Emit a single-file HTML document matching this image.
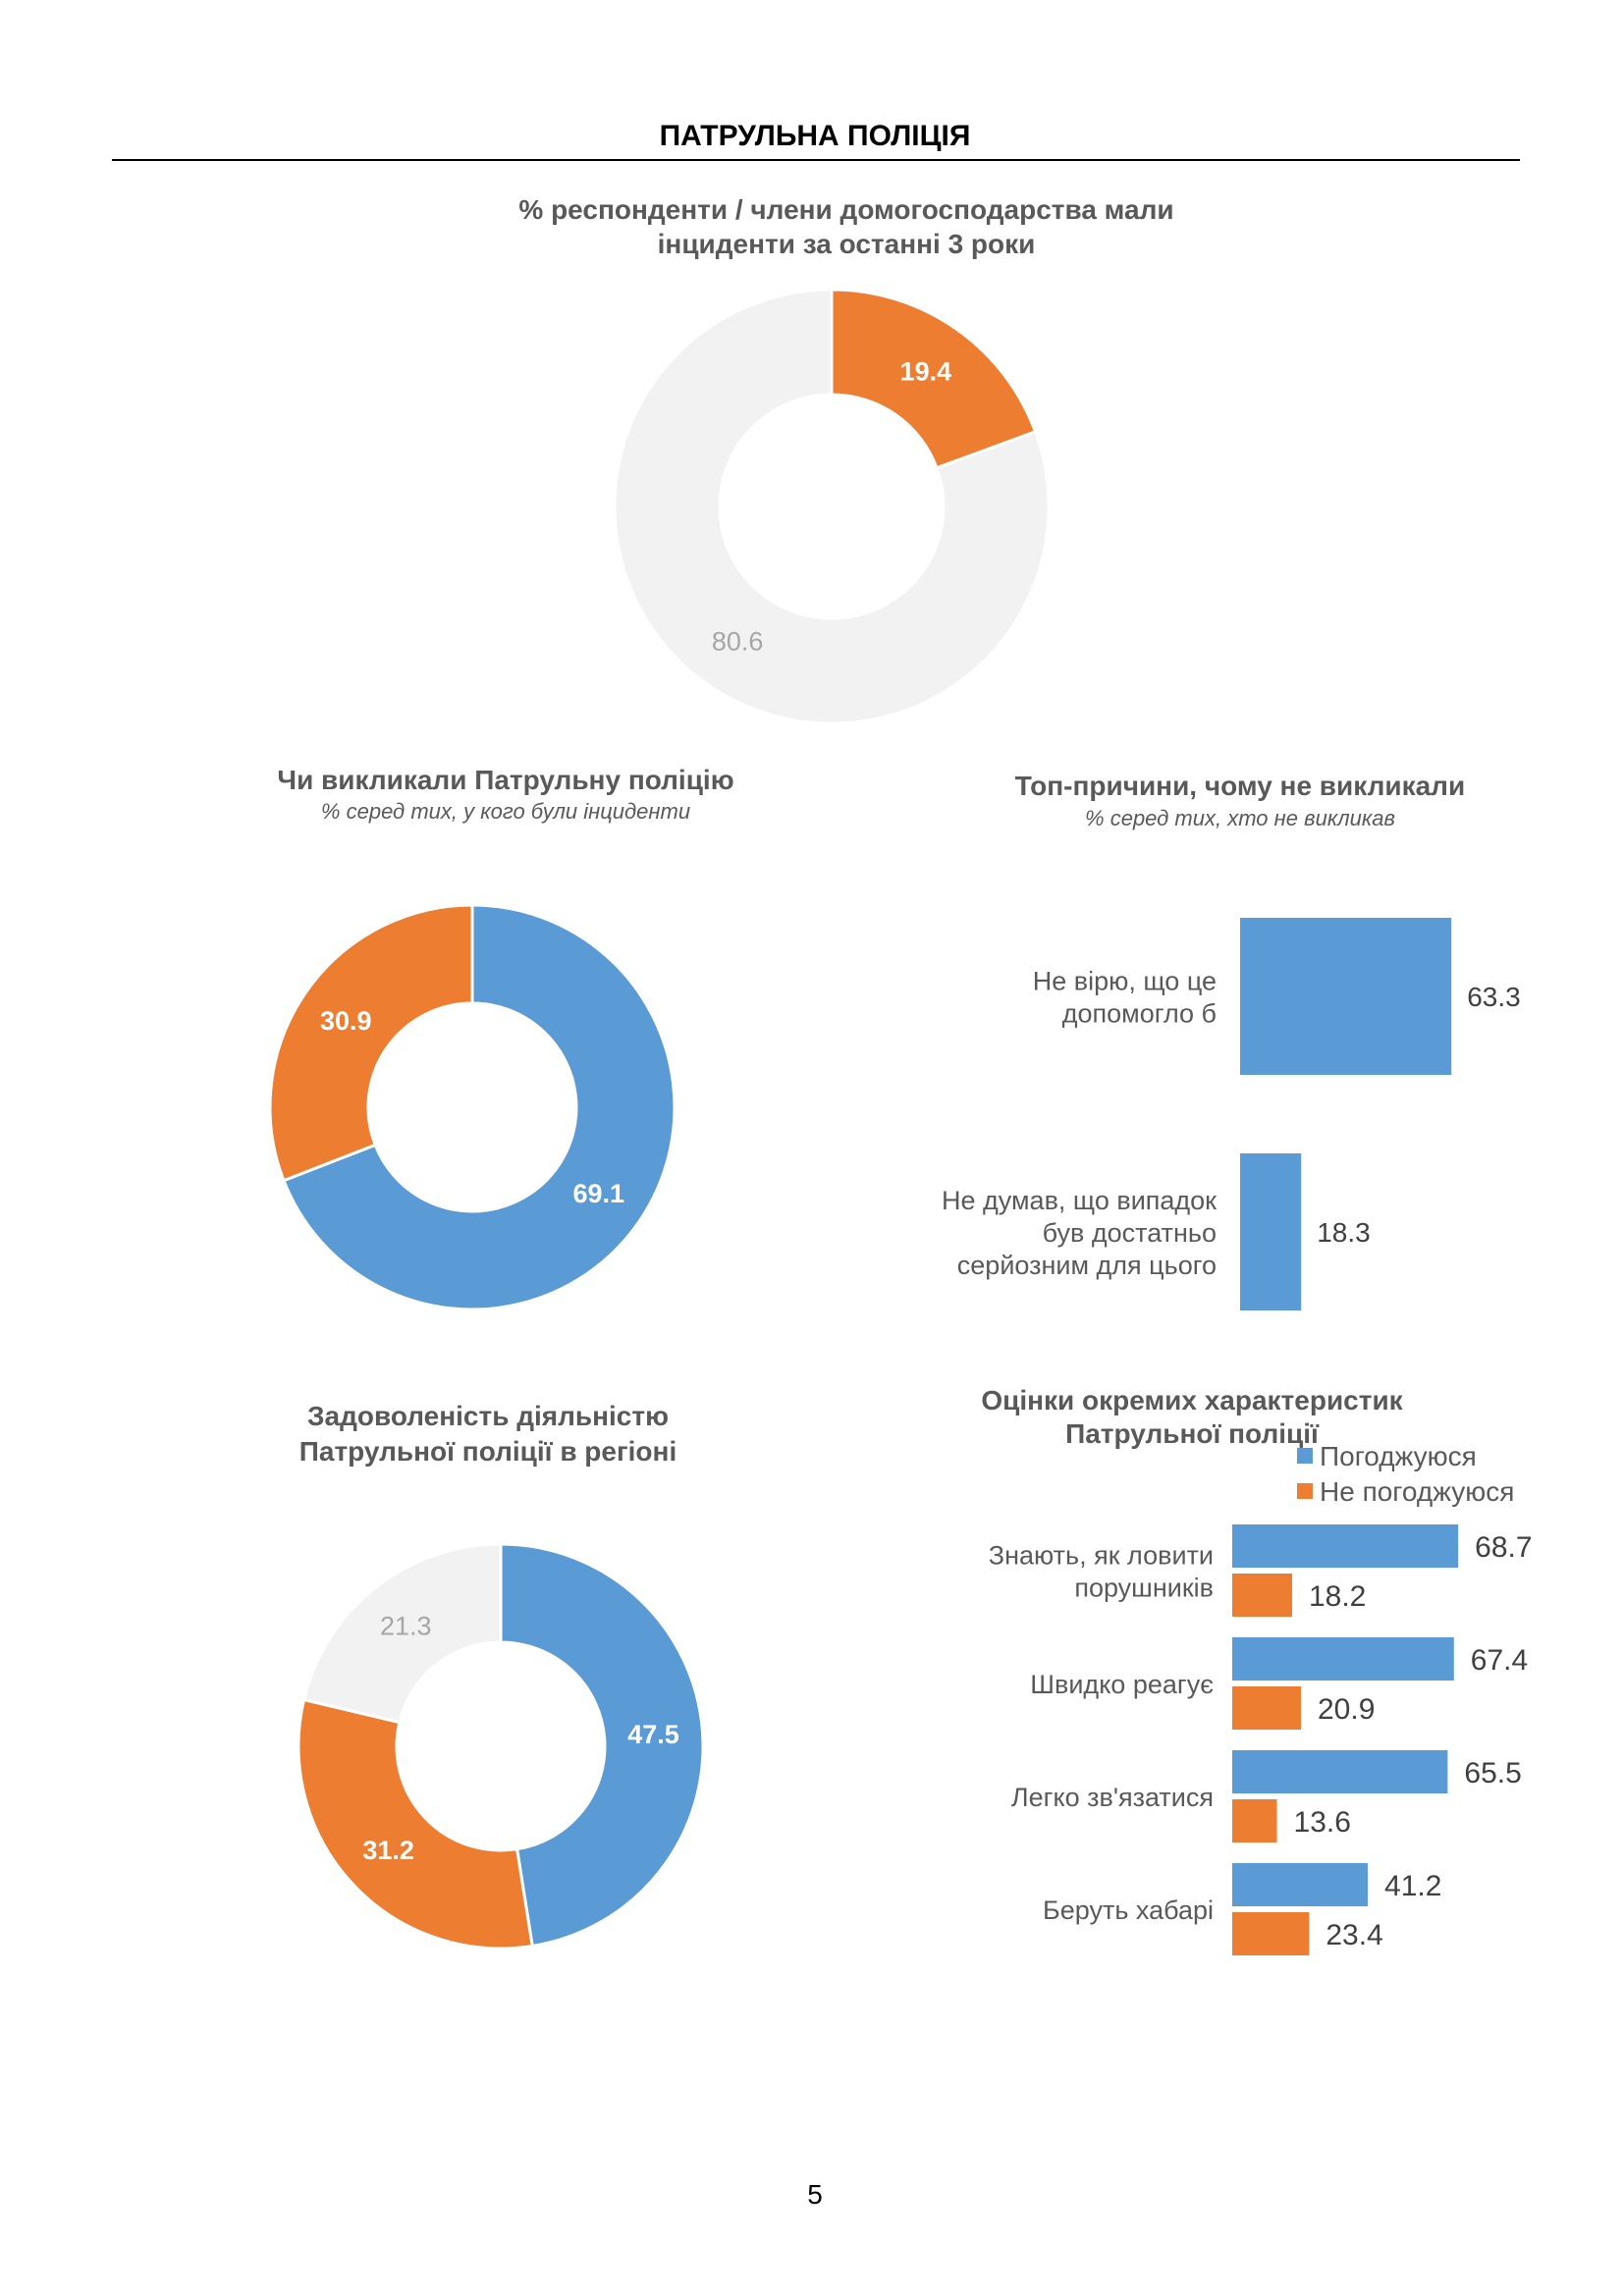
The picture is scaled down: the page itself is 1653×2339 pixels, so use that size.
<!DOCTYPE html>
<html><head><meta charset="utf-8">
<style>
html,body{margin:0;padding:0;background:#fff;}
svg{display:block;font-family:"Liberation Sans",Arial,sans-serif;}
</style></head>
<body>
<svg id="s" width="1653" height="2339" viewBox="0 0 1653 2339" xmlns="http://www.w3.org/2000/svg">
<text x="830" y="148" text-anchor="middle" font-size="30" font-weight="bold" fill="#000">ПАТРУЛЬНА ПОЛІЦІЯ</text>
<line x1="114" y1="163" x2="1548" y2="163" stroke="#000" stroke-width="2"/>

<g font-weight="bold" font-size="28" fill="#595959" text-anchor="middle">
<text x="862" y="223">% респонденти / члени домогосподарства мали</text>
<text x="862" y="258">інциденти за останні 3 роки</text>
<text x="515" y="804">Чи викликали Патрульну поліцію</text>
<text x="1263" y="810">Топ-причини, чому не викликали</text>
<text x="497" y="1452">Задоволеність діяльністю</text>
<text x="497" y="1488">Патрульної поліції в регіоні</text>
<text x="1214" y="1436">Оцінки окремих характеристик</text>
<text x="1214" y="1470">Патрульної поліції</text>
</g>
<g font-style="italic" font-size="22" fill="#595959" text-anchor="middle">
<text x="515" y="834">% серед тих, у кого були інциденти</text>
<text x="1263" y="841">% серед тих, хто не викликав</text>
</g>

<g id="d1"></g><g id="d2"></g><g id="d3"></g><g id="b1"></g><g id="b2"></g>

<g font-size="28" fill="#595959">
<rect x="1321" y="1475" width="16" height="16" fill="#5B9BD5"/>
<text x="1344" y="1493">Погоджуюся</text>
<rect x="1321" y="1511" width="16" height="16" fill="#ED7D31"/>
<text x="1344" y="1529">Не погоджуюся</text>
</g>

<text x="830" y="2245" text-anchor="middle" font-size="28" fill="#000">5</text>
</svg>
<script>
const NS="http://www.w3.org/2000/svg";
// Donut 1
const d1Values=[19.4,80.6];
const d1Colors=["#ED7D31","#F2F2F2"];
const d1LabelColors=["#fff","#A6A6A6"];
// Donut 2
const d2Values=[69.1,30.9];
const d2Colors=["#5B9BD5","#ED7D31"];
const d2LabelColors=["#fff","#fff"];
// Donut 3
const d3Values=[47.5,31.2,21.3];
const d3Colors=["#5B9BD5","#ED7D31","#F2F2F2"];
const d3LabelColors=["#fff","#fff","#A6A6A6"];
// Bar chart 1
const b1Categories=[["Не вірю, що це","допомогло б"],["Не думав, що випадок","був достатньо","серйозним для цього"]];
const b1Values=[63.3,18.3];
// Bar chart 2
const b2Categories=[["Знають, як ловити","порушників"],["Швидко реагує"],["Легко зв'язатися"],["Беруть хабарі"]];
const b2Agree=[68.7,67.4,65.5,41.2];
const b2Disagree=[18.2,20.9,13.6,23.4];

function el(tag,attrs,parent){const e=document.createElementNS(NS,tag);for(const k in attrs)e.setAttribute(k,attrs[k]);parent.appendChild(e);return e;}
function donut(gid,vals,cols,lcols,cx,cy,R,r,name){
  const g=document.getElementById(gid);
  const tot=vals.reduce((a,b)=>a+b,0);let a0=0;
  vals.forEach((v,i)=>{
    const a1=a0+v/tot*2*Math.PI;
    const p=(rad,ang)=>[cx+rad*Math.sin(ang),cy-rad*Math.cos(ang)];
    const [x1,y1]=p(R,a0),[x2,y2]=p(R,a1),[x3,y3]=p(r,a1),[x4,y4]=p(r,a0);
    const lg=(a1-a0)>Math.PI?1:0;
    const path=el("path",{d:`M${x1},${y1} A${R},${R} 0 ${lg} 1 ${x2},${y2} L${x3},${y3} A${r},${r} 0 ${lg} 0 ${x4},${y4} Z`,fill:cols[i],stroke:"#fff","stroke-width":3},g);
    
    
    const m=(a0+a1)/2,[lx,ly]=p((R+r)/2,m);
    const t=el("text",{x:lx,y:ly+9,"text-anchor":"middle","font-size":27,"font-weight":lcols[i]==="#fff"?"bold":"normal",fill:lcols[i]},g);
    t.textContent=v.toFixed(1);
    
    
    a0=a1;
  });
}
donut("d1",d1Values,d1Colors,d1LabelColors,847,516,221,114,"donut-incidents");
donut("d2",d2Values,d2Colors,d2LabelColors,481,1128,206,106,"donut-called");
donut("d3",d3Values,d3Colors,d3LabelColors,510,1779,206,106,"donut-satisfaction");

// bar chart 1
(function(){
  const g=document.getElementById("b1");const x0=1263,sc=3.40;
  const tops=[935,1175],h=160;
  b1Values.forEach((v,i)=>{
    const w=v*sc;
    const r=el("rect",{x:x0,y:tops[i],width:w,height:h,fill:"#5B9BD5"},g);
    
    
    const cy=tops[i]+h/2;
    const t=el("text",{x:x0+w+16,y:cy+10,"font-size":28,fill:"#404040"},g);
    t.textContent=v.toFixed(1);
    
    
    const lines=b1Categories[i];const lh=33;const start=cy-(lines.length-1)*lh/2+10;
    lines.forEach((ln,j)=>{
      const tl=el("text",{x:1239,y:start+j*lh,"text-anchor":"end","font-size":27,fill:"#595959"},g);
      tl.textContent=ln;
      
      
    });
  });
})();

// bar chart 2
(function(){
  const g=document.getElementById("b2");const x0=1255,sc=3.35,h=44;
  b2Categories.forEach((cat,i)=>{
    const top=1553+i*115;
    [[b2Agree[i],"#5B9BD5",top,"agree"],[b2Disagree[i],"#ED7D31",top+50,"disagree"]].forEach(([v,c,y,n])=>{
      const w=v*sc;
      const r=el("rect",{x:x0,y:y,width:w,height:h,fill:c},g);
      
      
      const t=el("text",{x:x0+w+17,y:y+h/2+11,"font-size":30,fill:"#404040"},g);
      t.textContent=v.toFixed(1);
      
      
    });
    const cy=top+47;const lh=33;const start=cy-(cat.length-1)*lh/2+10;
    cat.forEach((ln,j)=>{
      const tl=el("text",{x:1236,y:start+j*lh,"text-anchor":"end","font-size":27,fill:"#595959"},g);
      tl.textContent=ln;
      
      
    });
  });
})();
</script>
</body></html>
